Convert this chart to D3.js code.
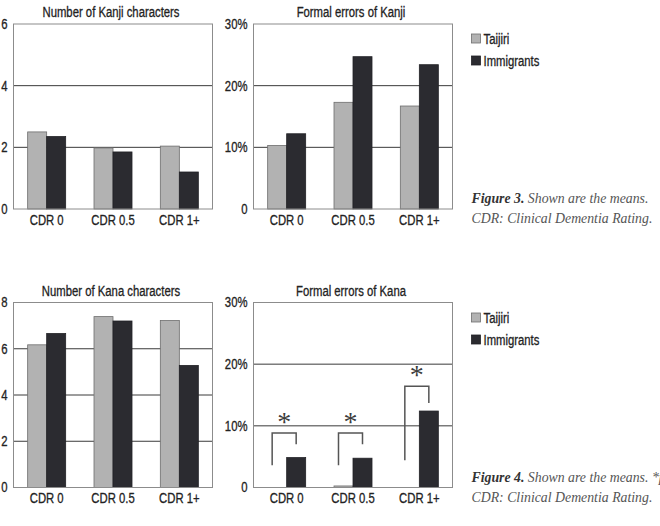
<!DOCTYPE html>
<html>
<head>
<meta charset="utf-8">
<script src="https://cdn.jsdelivr.net/npm/d3@7"></script>
<style>
html,body{margin:0;padding:0;background:#fff;}
svg{display:block;}
.cond{font-family:"Liberation Sans",Arial,sans-serif;}
</style>
</head>
<body>
<svg id="chart" width="660" height="526"></svg>
<script>
// ---- data ----
const categories = ["CDR 0", "CDR 0.5", "CDR 1+"];
const seriesNames = ["Taijiri", "Immigrants"];

const kanjiCountTaijiri = [2.50, 1.98, 2.04];
const kanjiCountImmigrants = [2.35, 1.85, 1.20];
const kanjiErrorTaijiri = [10.3, 17.3, 16.7];
const kanjiErrorImmigrants = [12.2, 24.7, 23.4];

const kanaCountTaijiri = [6.17, 7.39, 7.22];
const kanaCountImmigrants = [6.66, 7.20, 5.28];
const kanaErrorTaijiri = [0, 0.25, 0];
const kanaErrorImmigrants = [4.85, 4.75, 12.4];

// significance brackets (Formal errors of Kana), values in %
const sigTop = [8.85, 8.85, 16.4];
const sigLeftBottom = [3.6, 3.6, 4.4];
const sigRightBottom = [7.0, 7.0, 13.7];

const countTicks = { kanji: [0, 2, 4, 6], kana: [0, 2, 4, 6, 8] };
const percentTicks = [0, 10, 20, 30];

const captions = {
  fig3: ["Figure 3.", " Shown are the means.", "CDR: Clinical Dementia Rating."],
  fig4: ["Figure 4.", " Shown are the means. *p < 0.05.", "CDR: Clinical Dementia Rating."]
};

// ---- styles ----
const colors = { Taijiri: "#b2b2b2", Immigrants: "#2b2b30" };
const strokes = { Taijiri: "#6e6e6e", Immigrants: "#222226" };
const FS = 14;

const svg = d3.select("#chart");

function panel(opts) {
  const { x0, x1, y0, y1, max, ticks, fmt, title, a, b } = opts;
  const g = svg.append("g");
  const x = d3.scaleBand().domain(categories).range([x0, x1])
    .paddingInner(0.427).paddingOuter(0.2135);
  const xs = d3.scaleBand().domain(seriesNames).range([0, x.bandwidth()]).padding(0);
  const y = d3.scaleLinear().domain([0, max]).range([y1, y0]);

  g.selectAll("line.grid").data(ticks.filter(t => t > 0 && t < max)).join("line")
    .attr("x1", x0).attr("x2", x1)
    .attr("y1", d => y(d)).attr("y2", d => y(d))
    .attr("stroke", "#3a3a3a").attr("stroke-width", 1);

  const rows = categories.map((c, i) => ({ c, vals: [{ s: "Taijiri", v: a[i] }, { s: "Immigrants", v: b[i] }] }));
  const grp = g.selectAll("g.cat").data(rows).join("g")
    .attr("transform", d => `translate(${x(d.c)},0)`);
  grp.selectAll("rect").data(d => d.vals).join("rect")
    .attr("x", d => xs(d.s)).attr("width", xs.bandwidth())
    .attr("y", d => y(d.v)).attr("height", d => y(0) - y(d.v))
    .attr("fill", d => colors[d.s])
    .attr("stroke", d => d.v > 0 ? strokes[d.s] : "none")
    .attr("stroke-width", 0.8);

  g.append("rect").attr("x", x0).attr("y", y0).attr("width", x1 - x0).attr("height", y1 - y0)
    .attr("fill", "none").attr("stroke", "#8c8c8c").attr("stroke-width", 1);

  const ya = g.append("g").attr("transform", `translate(${x0},0)`)
    .call(d3.axisLeft(y).tickValues(ticks).tickSize(0).tickPadding(6).tickFormat(fmt));
  ya.select(".domain").remove();
  ya.selectAll("text").attr("class", "cond").attr("font-size", FS).attr("fill", "#222").attr("font-family", null);

  const xa = g.append("g").attr("transform", `translate(0,${y1})`)
    .call(d3.axisBottom(x).tickSize(0).tickPadding(6));
  xa.select(".domain").remove();
  xa.selectAll("text").attr("class", "cond").attr("font-size", FS).attr("fill", "#222").attr("font-family", null);

  g.append("text").attr("class", "cond title").attr("x", (x0 + x1) / 2 - 2).attr("y", y0 - 7)
    .attr("text-anchor", "middle").attr("font-size", FS).attr("fill", "#222").text(title);

  return { g, x, xs, y };
}

const pctFmt = d => d === 0 ? "0" : d + "%";

panel({ x0: 13.5, x1: 212.5, y0: 24, y1: 209, max: 6, ticks: countTicks.kanji, fmt: d3.format("d"),
  title: "Number of Kanji characters", a: kanjiCountTaijiri, b: kanjiCountImmigrants });
panel({ x0: 253.5, x1: 452.5, y0: 24, y1: 209, max: 30, ticks: percentTicks, fmt: pctFmt,
  title: "Formal errors of Kanji", a: kanjiErrorTaijiri, b: kanjiErrorImmigrants });
panel({ x0: 13.5, x1: 212.5, y0: 302.5, y1: 487.5, max: 8, ticks: countTicks.kana, fmt: d3.format("d"),
  title: "Number of Kana characters", a: kanaCountTaijiri, b: kanaCountImmigrants });
const p4 = panel({ x0: 253.5, x1: 452.5, y0: 302.5, y1: 487.5, max: 30, ticks: percentTicks, fmt: pctFmt,
  title: "Formal errors of Kana", a: kanaErrorTaijiri, b: kanaErrorImmigrants });

categories.forEach((c, i) => {
  const lx = p4.x(c) + p4.xs("Taijiri") + 4.5;
  const rx = p4.x(c) + p4.xs("Immigrants") + p4.xs.bandwidth() / 2;
  const path = d3.path();
  path.moveTo(lx, p4.y(sigLeftBottom[i]));
  path.lineTo(lx, p4.y(sigTop[i]));
  path.lineTo(rx, p4.y(sigTop[i]));
  path.lineTo(rx, p4.y(sigRightBottom[i]));
  p4.g.append("path").attr("d", path.toString()).attr("fill", "none")
    .attr("stroke", "#555").attr("stroke-width", 1.5);
  p4.g.append("text").attr("x", (lx + rx) / 2).attr("y", p4.y(sigTop[i]) - 2)
    .attr("text-anchor", "middle").attr("font-family", "Liberation Serif, serif")
    .attr("font-size", 28).attr("fill", "#3c3c3c")
    .text("*");
});

function legend(yTop) {
  const lg = svg.append("g");
  seriesNames.forEach((s, i) => {
    const cy = yTop + i * 22;
    lg.append("rect").attr("x", 471.5).attr("y", cy - 4.5).attr("width", 9).attr("height", 9)
      .attr("fill", colors[s]).attr("stroke", strokes[s]).attr("stroke-width", 0.8);
    lg.append("text").attr("class", "cond").attr("x", 483.5).attr("y", cy).attr("dy", "0.36em")
      .attr("font-size", FS).attr("fill", "#222").text(s);
  });
}
legend(38.5);
legend(317.5);

// condensed look: squeeze the sans texts uniformly (reference uses a condensed face)
const titleNode = svg.select("text.title").node();
const K = 137 / titleNode.getComputedTextLength();
svg.selectAll("text.cond").each(function () {
  const len = this.getComputedTextLength();
  d3.select(this).attr("textLength", len * K).attr("lengthAdjust", "spacingAndGlyphs")
    .attr("stroke", "#222").attr("stroke-width", 0.3);
});

function caption(lines, y) {
  const t = svg.append("text").attr("x", 471.5).attr("y", y)
    .attr("font-family", "Liberation Serif, serif").attr("font-size", 15)
    .attr("font-style", "italic").attr("fill", "#555");
  t.append("tspan").attr("font-weight", "bold").attr("fill", "#333").text(lines[0]);
  t.append("tspan").text(lines[1]);
  const t2 = svg.append("text").attr("x", 471.5).attr("y", y + 20)
    .attr("font-family", "Liberation Serif, serif").attr("font-size", 15)
    .attr("font-style", "italic").attr("fill", "#555").text(lines[2]);
  const len = t2.node().getComputedTextLength();
  const fs = 15 * 181 / len;
  t.attr("font-size", fs);
  t2.attr("font-size", fs);
}
caption(captions.fig3, 203);
caption(captions.fig4, 482);
</script>
</body>
</html>
